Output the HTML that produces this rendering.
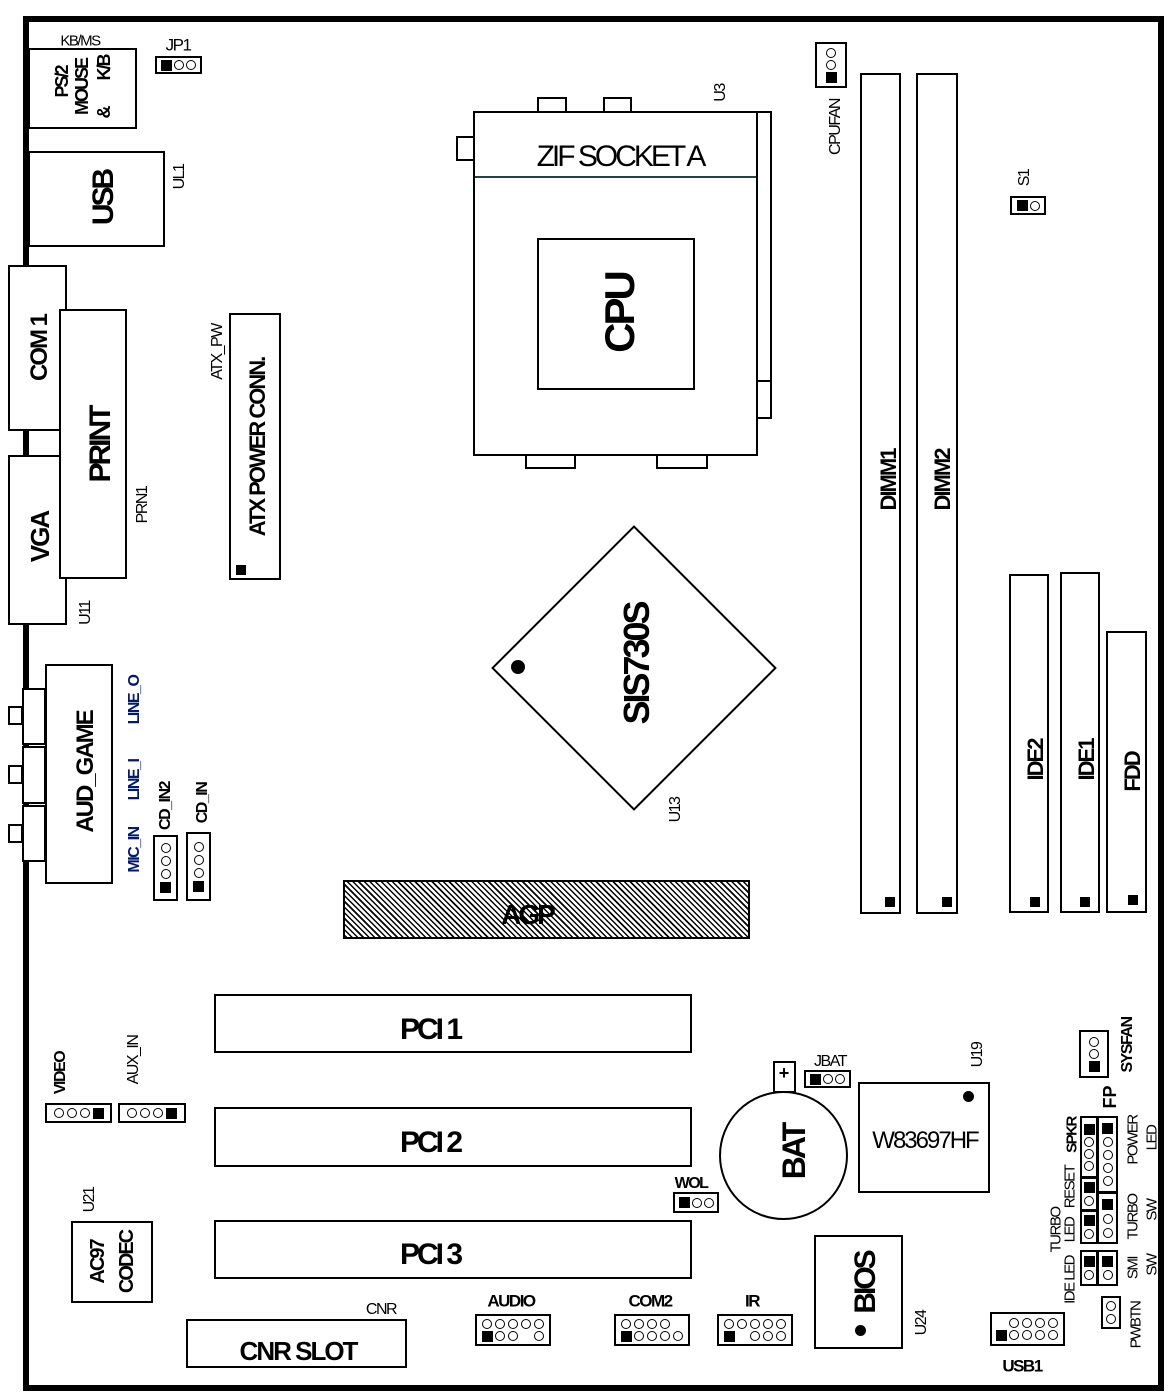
<!DOCTYPE html>
<html><head><meta charset="utf-8">
<style>
*{margin:0;padding:0;box-sizing:border-box}
body{width:1173px;height:1397px;background:#fff;position:relative;overflow:hidden;font-family:"Liberation Sans",sans-serif;color:#000}
.b{position:absolute;border:2px solid #000;background:#fff}
.t{position:absolute;white-space:nowrap;transform:translate(-50%,-50%);line-height:1}
.r{position:absolute;white-space:nowrap;transform:translate(-50%,-50%) rotate(-90deg);line-height:1}
.big{font-weight:bold;font-size:30px;letter-spacing:-3px}
.med{font-weight:bold;font-size:22px;letter-spacing:-2px}
.sm{font-size:16px;letter-spacing:-1.5px}
.hd{position:absolute;border:2px solid #000;background:#fff;display:flex;align-items:center;justify-content:center;gap:2px}
.col{flex-direction:column}
.p{display:inline-block;width:10px;height:10px;border:1.5px solid #000;border-radius:50%;flex:none}
.s{display:inline-block;width:11px;height:11px;background:#000;flex:none}
.x{display:inline-block;width:10px;height:10px;visibility:hidden}
.g{position:absolute;border:2px solid #000;background:#fff;display:grid;grid-template-columns:repeat(5,11px);gap:2px 2px;padding:3px 4px;justify-content:center;align-content:center}
.sq{position:absolute;width:10px;height:10px;background:#000}
</style></head><body>
<div style="position:absolute;left:23px;top:16px;width:1141px;height:1375px;border:6px solid #000"></div>

<div class="b" style="left:28px;top:48px;width:109px;height:81px"></div>
<div class="t sm" style="left:80px;top:41px;font-size:15px">KB/MS</div>
<div class="r" style="left:62px;top:82px;font-weight:bold;font-size:18px;letter-spacing:-2px">PS/2</div>
<div class="r" style="left:82px;top:87px;font-weight:bold;font-size:18px;letter-spacing:-2px">MOUSE</div>
<div class="r" style="left:104px;top:112px;font-weight:bold;font-size:18px">&amp;</div>
<div class="r" style="left:104px;top:68px;font-weight:bold;font-size:18px;letter-spacing:-2px">K/B</div>
<div class="t sm" style="left:178px;top:45px;font-size:17px">JP1</div>
<div class="hd" style="left:155px;top:56px;width:47px;height:18px"><span class="s"></span><span class="p"></span><span class="p"></span></div>

<div class="b" style="left:28px;top:151px;width:137px;height:96px"></div>
<div class="r big" style="left:104px;top:198px">USB</div>
<div class="r sm" style="left:180px;top:177px">UL1</div>

<div class="b" style="left:8px;top:265px;width:59px;height:166px"></div>
<div class="r med" style="left:40px;top:348px;font-size:24px">COM 1</div>
<div class="b" style="left:8px;top:455px;width:59px;height:170px"></div>
<div class="r med" style="left:40px;top:537px;font-size:26px">VGA</div>
<div class="b" style="left:59px;top:309px;width:68px;height:270px"></div>
<div class="r big" style="left:101px;top:445px">PRINT</div>
<div class="r sm" style="left:143px;top:505px">PRN1</div>
<div class="r sm" style="left:86px;top:613px">U11</div>

<div class="b" style="left:229px;top:313px;width:52px;height:267px"></div>
<div class="r med" style="left:258px;top:447px">ATX POWER CONN.</div>
<div class="r sm" style="left:218px;top:352px">ATX_PW</div>
<div class="sq" style="left:236px;top:565px"></div>

<div class="b" style="left:22px;top:688px;width:24px;height:57px"></div>
<div class="b" style="left:22px;top:746px;width:24px;height:58px"></div>
<div class="b" style="left:22px;top:805px;width:24px;height:57px"></div>
<div class="b" style="left:8px;top:706px;width:15px;height:19px"></div>
<div class="b" style="left:8px;top:765px;width:15px;height:19px"></div>
<div class="b" style="left:8px;top:824px;width:15px;height:19px"></div>
<div class="b" style="left:45px;top:664px;width:68px;height:220px"></div>
<div class="r med" style="left:86px;top:772px;font-size:24px">AUD_GAME</div>
<div class="r sm" style="left:135px;top:700px;color:#001a70;font-weight:bold">LINE_O</div>
<div class="r sm" style="left:135px;top:780px;color:#001a70;font-weight:bold">LINE_I</div>
<div class="r sm" style="left:135px;top:850px;color:#001a70;font-weight:bold">MIC_IN</div>
<div class="r sm" style="left:166px;top:806px;font-weight:bold">CD_IN2</div>
<div class="r sm" style="left:203px;top:803px;font-weight:bold">CD_IN</div>
<div class="hd col" style="left:153px;top:835px;width:25px;height:66px;gap:3px"><span class="p"></span><span class="p"></span><span class="p"></span><span class="s"></span></div>
<div class="hd col" style="left:186px;top:832px;width:25px;height:69px;gap:3px"><span class="p"></span><span class="p"></span><span class="p"></span><span class="s"></span></div>

<div class="b" style="left:537px;top:97px;width:30px;height:16px"></div>
<div class="b" style="left:603px;top:97px;width:29px;height:16px"></div>
<div class="b" style="left:456px;top:136px;width:19px;height:25px"></div>
<div class="b" style="left:525px;top:453px;width:51px;height:16px"></div>
<div class="b" style="left:656px;top:453px;width:52px;height:16px"></div>
<div class="b" style="left:473px;top:111px;width:285px;height:345px"></div>
<div class="b" style="left:756px;top:111px;width:16px;height:308px"></div>
<div style="position:absolute;left:756px;top:380px;width:16px;height:2px;background:#000"></div>
<div style="position:absolute;left:475px;top:176px;width:281px;height:2px;background:#244"></div>
<div class="t" style="left:620px;top:157px;font-size:30px;letter-spacing:-3px">ZIF SOCKET A</div>
<div class="b" style="left:537px;top:238px;width:158px;height:152px"></div>
<div class="r" style="left:620px;top:313px;font-size:42px;font-weight:bold;letter-spacing:-3px">CPU</div>
<div class="r sm" style="left:721px;top:93px">U3</div>

<div class="hd col" style="left:815px;top:42px;width:32px;height:46px;gap:2px"><span class="p"></span><span class="p"></span><span class="s"></span></div>
<div class="r sm" style="left:836px;top:127px">CPUFAN</div>

<div class="b" style="left:860px;top:73px;width:41px;height:841px"></div>
<div class="b" style="left:916px;top:73px;width:42px;height:841px"></div>
<div class="r med" style="left:889px;top:480px">DIMM1</div>
<div class="r med" style="left:943px;top:480px">DIMM2</div>
<div class="sq" style="left:885px;top:897px"></div>
<div class="sq" style="left:942px;top:897px"></div>

<div class="r sm" style="left:1025px;top:178px">S1</div>
<div class="hd" style="left:1010px;top:196px;width:36px;height:19px"><span class="s"></span><span class="p"></span></div>

<div class="b" style="left:1009px;top:574px;width:40px;height:339px"></div>
<div class="b" style="left:1060px;top:572px;width:40px;height:341px"></div>
<div class="b" style="left:1106px;top:631px;width:41px;height:282px"></div>
<div class="r med" style="left:1036px;top:760px">IDE2</div>
<div class="r med" style="left:1087px;top:760px">IDE1</div>
<div class="r med" style="left:1133px;top:772px">FDD</div>
<div class="sq" style="left:1030px;top:897px"></div>
<div class="sq" style="left:1080px;top:897px"></div>
<div class="sq" style="left:1128px;top:895px"></div>

<div style="position:absolute;left:533px;top:567px;width:202px;height:202px;border:2px solid #000;transform:rotate(45deg);background:#fff"></div>
<div style="position:absolute;left:511px;top:660px;width:14px;height:14px;border-radius:50%;background:#000"></div>
<div class="r big" style="left:637px;top:664px;font-size:36px">SIS730S</div>
<div class="r sm" style="left:676px;top:810px">U13</div>

<div style="position:absolute;left:343px;top:880px;width:407px;height:59px;border:2px solid #000;background:repeating-linear-gradient(45deg,#000 0 1.5px,#fff 1.5px 4px)"></div>
<div class="t big" style="left:527px;top:915px;font-size:28px">AGP</div>

<div class="b" style="left:214px;top:994px;width:478px;height:59px"></div>
<div class="b" style="left:214px;top:1107px;width:478px;height:60px"></div>
<div class="b" style="left:214px;top:1220px;width:478px;height:59px"></div>
<div class="t big" style="left:430px;top:1030px">PCI 1</div>
<div class="t big" style="left:430px;top:1143px">PCI 2</div>
<div class="t big" style="left:430px;top:1255px">PCI 3</div>

<div class="r sm" style="left:61px;top:1073px;font-weight:bold">VIDEO</div>
<div class="hd" style="left:45px;top:1103px;width:67px;height:20px;gap:3px"><span class="p"></span><span class="p"></span><span class="p"></span><span class="s"></span></div>
<div class="r sm" style="left:134px;top:1060px">AUX_IN</div>
<div class="hd" style="left:118px;top:1103px;width:68px;height:20px;gap:3px"><span class="p"></span><span class="p"></span><span class="p"></span><span class="s"></span></div>

<div class="r sm" style="left:90px;top:1200px">U21</div>
<div class="b" style="left:71px;top:1221px;width:82px;height:82px"></div>
<div class="r" style="left:98px;top:1262px;font-weight:bold;font-size:20px;letter-spacing:-2px">AC97</div>
<div class="r" style="left:127px;top:1262px;font-weight:bold;font-size:20px;letter-spacing:-2px">CODEC</div>

<div class="b" style="left:186px;top:1319px;width:221px;height:49px"></div>
<div class="t med" style="left:298px;top:1351px;font-size:26px">CNR SLOT</div>
<div class="t sm" style="left:381px;top:1310px">CNR</div>

<div class="t sm" style="left:511px;top:1301px;font-weight:bold;font-size:17px">AUDIO</div>
<div class="g" style="left:475px;top:1314px;width:76px;height:32px"><span class="p"></span><span class="p"></span><span class="p"></span><span class="p"></span><span class="p"></span><span class="s"></span><span class="p"></span><span class="p"></span><span class="x"></span><span class="p"></span></div>
<div class="t sm" style="left:650px;top:1301px;font-weight:bold;font-size:17px">COM2</div>
<div class="g" style="left:614px;top:1314px;width:76px;height:32px"><span class="p"></span><span class="p"></span><span class="p"></span><span class="p"></span><span class="x"></span><span class="s"></span><span class="p"></span><span class="p"></span><span class="p"></span><span class="p"></span></div>
<div class="t sm" style="left:752px;top:1301px;font-weight:bold;font-size:17px">IR</div>
<div class="g" style="left:717px;top:1314px;width:76px;height:32px"><span class="p"></span><span class="p"></span><span class="p"></span><span class="p"></span><span class="p"></span><span class="s"></span><span class="x"></span><span class="p"></span><span class="p"></span><span class="p"></span></div>

<div class="b" style="left:814px;top:1235px;width:89px;height:114px"></div>
<div class="r big" style="left:866px;top:1283px">BIOS</div>
<div style="position:absolute;left:855px;top:1325px;width:11px;height:11px;border-radius:50%;background:#000"></div>
<div class="r sm" style="left:922px;top:1323px">U24</div>

<div class="g" style="left:990px;top:1312px;width:75px;height:34px"><span class="x"></span><span class="p"></span><span class="p"></span><span class="p"></span><span class="p"></span><span class="s"></span><span class="p"></span><span class="p"></span><span class="p"></span><span class="p"></span></div>
<div class="t sm" style="left:1022px;top:1366px;font-weight:bold;font-size:17px">USB1</div>

<div class="b" style="left:773px;top:1061px;width:23px;height:32px"></div>
<div class="t" style="left:784px;top:1073px;font-weight:bold;font-size:18px">+</div>
<div style="position:absolute;left:719px;top:1091px;width:129px;height:129px;border:2px solid #000;border-radius:50%;background:#fff"></div>
<div class="r big" style="left:794px;top:1152px;font-size:32px">BAT</div>
<div class="t sm" style="left:830px;top:1062px">JBAT</div>
<div class="hd" style="left:804px;top:1070px;width:47px;height:18px"><span class="s"></span><span class="p"></span><span class="p"></span></div>

<div class="t sm" style="left:691px;top:1184px;font-weight:bold">WOL</div>
<div class="hd" style="left:673px;top:1192px;width:46px;height:21px"><span class="s"></span><span class="p"></span><span class="p"></span></div>

<div class="b" style="left:858px;top:1082px;width:132px;height:111px"></div>
<div style="position:absolute;left:963px;top:1091px;width:11px;height:11px;border-radius:50%;background:#000"></div>
<div class="t" style="left:925px;top:1141px;font-size:24px;letter-spacing:-2px">W83697HF</div>
<div class="r sm" style="left:978px;top:1055px">U19</div>

<div class="hd col" style="left:1079px;top:1030px;width:30px;height:48px;gap:2px"><span class="p"></span><span class="p"></span><span class="s"></span></div>
<div class="r sm" style="left:1128px;top:1045px;font-weight:bold">SYSFAN</div>

<div class="r" style="left:1110px;top:1097px;font-size:18px;font-weight:bold">FP</div>
<div class="hd col" style="left:1080px;top:1116px;width:18px;height:62px;gap:2px"><span class="s"></span><span class="p"></span><span class="p"></span><span class="p"></span></div>
<div class="hd col" style="left:1080px;top:1177px;width:18px;height:34px;gap:3px"><span class="s"></span><span class="p"></span></div>
<div class="hd col" style="left:1080px;top:1210px;width:18px;height:34px;gap:3px"><span class="s"></span><span class="p"></span></div>
<div class="hd col" style="left:1097px;top:1116px;width:21px;height:77px;gap:3px"><span class="s"></span><span class="p"></span><span class="p"></span><span class="p"></span><span class="p"></span></div>
<div class="hd col" style="left:1097px;top:1192px;width:21px;height:52px;gap:4px"><span class="s"></span><span class="p"></span><span class="p"></span></div>
<div class="hd col" style="left:1080px;top:1250px;width:18px;height:36px;gap:3px"><span class="s"></span><span class="p"></span></div>
<div class="hd col" style="left:1097px;top:1250px;width:21px;height:36px;gap:3px"><span class="s"></span><span class="p"></span></div>
<div class="hd col" style="left:1101px;top:1296px;width:20px;height:33px;gap:3px"><span class="p"></span><span class="p"></span></div>
<div class="r sm" style="left:1072px;top:1135px;font-weight:bold;font-size:15px">SPKR</div>
<div class="r sm" style="left:1070px;top:1187px;font-size:15px">RESET</div>
<div class="r sm" style="left:1056px;top:1230px;font-size:15px">TURBO</div>
<div class="r sm" style="left:1070px;top:1230px;font-size:15px">LED</div>
<div class="r sm" style="left:1070px;top:1280px;font-size:15px">IDE LED</div>
<div class="r sm" style="left:1133px;top:1140px;font-size:15px">POWER</div>
<div class="r sm" style="left:1152px;top:1138px;font-size:15px">LED</div>
<div class="r sm" style="left:1133px;top:1217px;font-size:15px">TURBO</div>
<div class="r sm" style="left:1152px;top:1210px;font-size:15px">SW</div>
<div class="r sm" style="left:1133px;top:1268px;font-size:15px">SMI</div>
<div class="r sm" style="left:1152px;top:1265px;font-size:15px">SW</div>
<div class="r sm" style="left:1136px;top:1325px;font-size:15px">PWBTN</div>
</body></html>
